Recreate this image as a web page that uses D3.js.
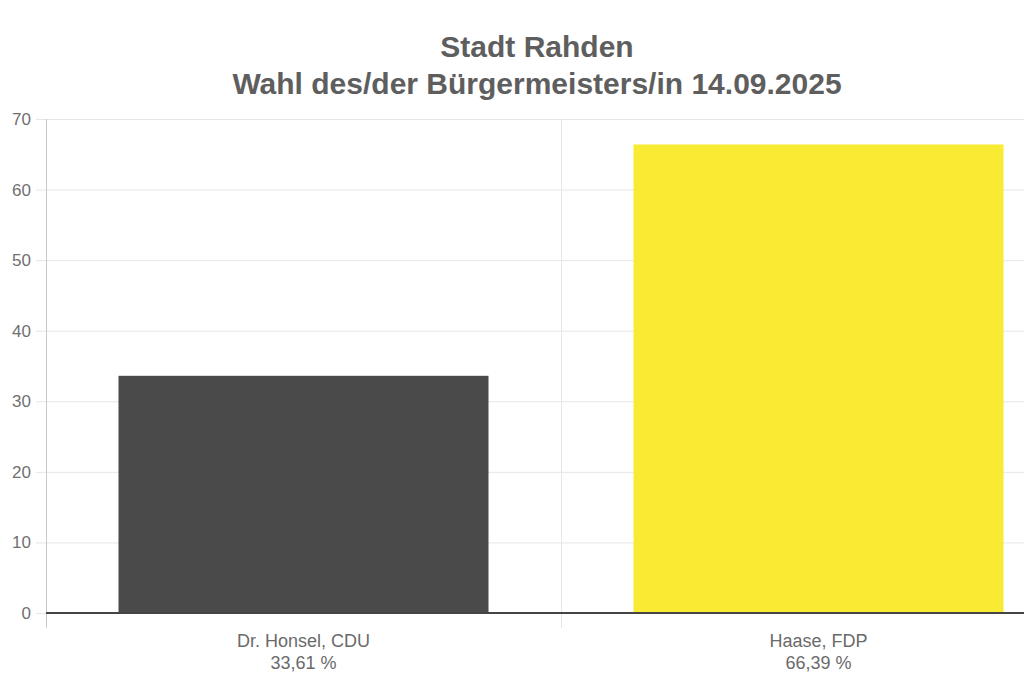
<!DOCTYPE html>
<meta charset="utf-8">
<style>
body { margin: 0; background: #fff; overflow: hidden; }
text { font-family: "Liberation Sans", Arial, sans-serif; }
</style>
<body>
<script src="https://cdn.jsdelivr.net/npm/d3@7"></script>
<script>
// data
var candidates = ["Dr. Honsel, CDU", "Haase, FDP"];
var shares = [33.61, 66.39];
var shareLabels = ["33,61 %", "66,39 %"];
var barColors = ["#4a4a4a", "#f9eb33"];
var titleLines = ["Stadt Rahden", "Wahl des/der Bürgermeisters/in 14.09.2025"];

var W = 1024, H = 687;
var margin = {top: 119, left: 46};
var plotW = 1030, plotH = 494;

var svg = d3.select("body").append("svg")
    .attr("width", W)
    .attr("height", H);

var x = d3.scaleBand()
    .domain(candidates)
    .range([0, plotW])
    .paddingInner(0)
    .paddingOuter(0);

var y = d3.scaleLinear()
    .domain([0, 70])
    .range([plotH, 0]);

// title
svg.selectAll(".title")
    .data(titleLines)
  .enter().append("text")
    .attr("x", 537)
    .attr("y", function(d, i) { return 57 + i * 37; })
    .attr("text-anchor", "middle")
    .style("font-size", "30px")
    .style("font-weight", "bold")
    .style("fill", "#5e5e5e")
    .text(function(d) { return d; });

var g = svg.append("g")
    .attr("transform", "translate(" + margin.left + "," + margin.top + ")");

// horizontal grid
g.append("g")
    .selectAll("line")
    .data(y.ticks(7))
    .enter().append("line")
    .attr("x1", -10)
    .attr("x2", plotW)
    .attr("y1", function(d) { return y(d) + 0.5; })
    .attr("y2", function(d) { return y(d) + 0.5; })
    .attr("stroke", "#e6e6e6")
    .attr("stroke-width", 1);

// vertical grid at category boundaries
var bounds = candidates.map(function(c) { return x(c); });
g.append("g")
    .selectAll("line")
    .data(bounds)
    .enter().append("line")
    .attr("x1", function(d) { return d + 0.5; })
    .attr("x2", function(d) { return d + 0.5; })
    .attr("y1", 0)
    .attr("y2", plotH + 15)
    .attr("stroke", function(d, i) { return i === 0 ? "#c8c8c8" : "#e6e6e6"; })
    .attr("stroke-width", 1);

// y labels
g.append("g")
    .selectAll("text")
    .data(y.ticks(7))
    .enter().append("text")
    .attr("x", -15)
    .attr("y", function(d) { return y(d) + 6; })
    .attr("text-anchor", "end")
    .style("font-size", "17px")
    .style("fill", "#707070")
    .text(function(d) { return d; });

// bars
var barW = 370;
g.selectAll(".bar")
    .data(shares)
  .enter().append("rect")
    .attr("class", "bar")
    .attr("x", function(d, i) { return x(candidates[i]) + (x.bandwidth() - barW) / 2; })
    .attr("width", barW)
    .attr("y", function(d) { return y(d); })
    .attr("height", function(d) { return plotH - y(d); })
    .attr("fill", function(d, i) { return barColors[i]; });

// zero line
g.append("line")
    .attr("x1", 0)
    .attr("x2", plotW)
    .attr("y1", y(0))
    .attr("y2", y(0))
    .attr("stroke", "#444")
    .attr("stroke-width", 2);

// x labels
var xl = g.append("g")
    .selectAll("g")
    .data(candidates)
    .enter().append("g")
    .attr("transform", function(d) { return "translate(" + (x(d) + x.bandwidth() / 2) + "," + (plotH + 34) + ")"; });
xl.append("text")
    .attr("text-anchor", "middle")
    .style("font-size", "18px")
    .style("fill", "#6a6a6a")
    .text(function(d) { return d; });
xl.append("text")
    .attr("y", 22)
    .attr("text-anchor", "middle")
    .style("font-size", "18px")
    .style("fill", "#6a6a6a")
    .text(function(d, i) { return shareLabels[i]; });
</script>
</body>
